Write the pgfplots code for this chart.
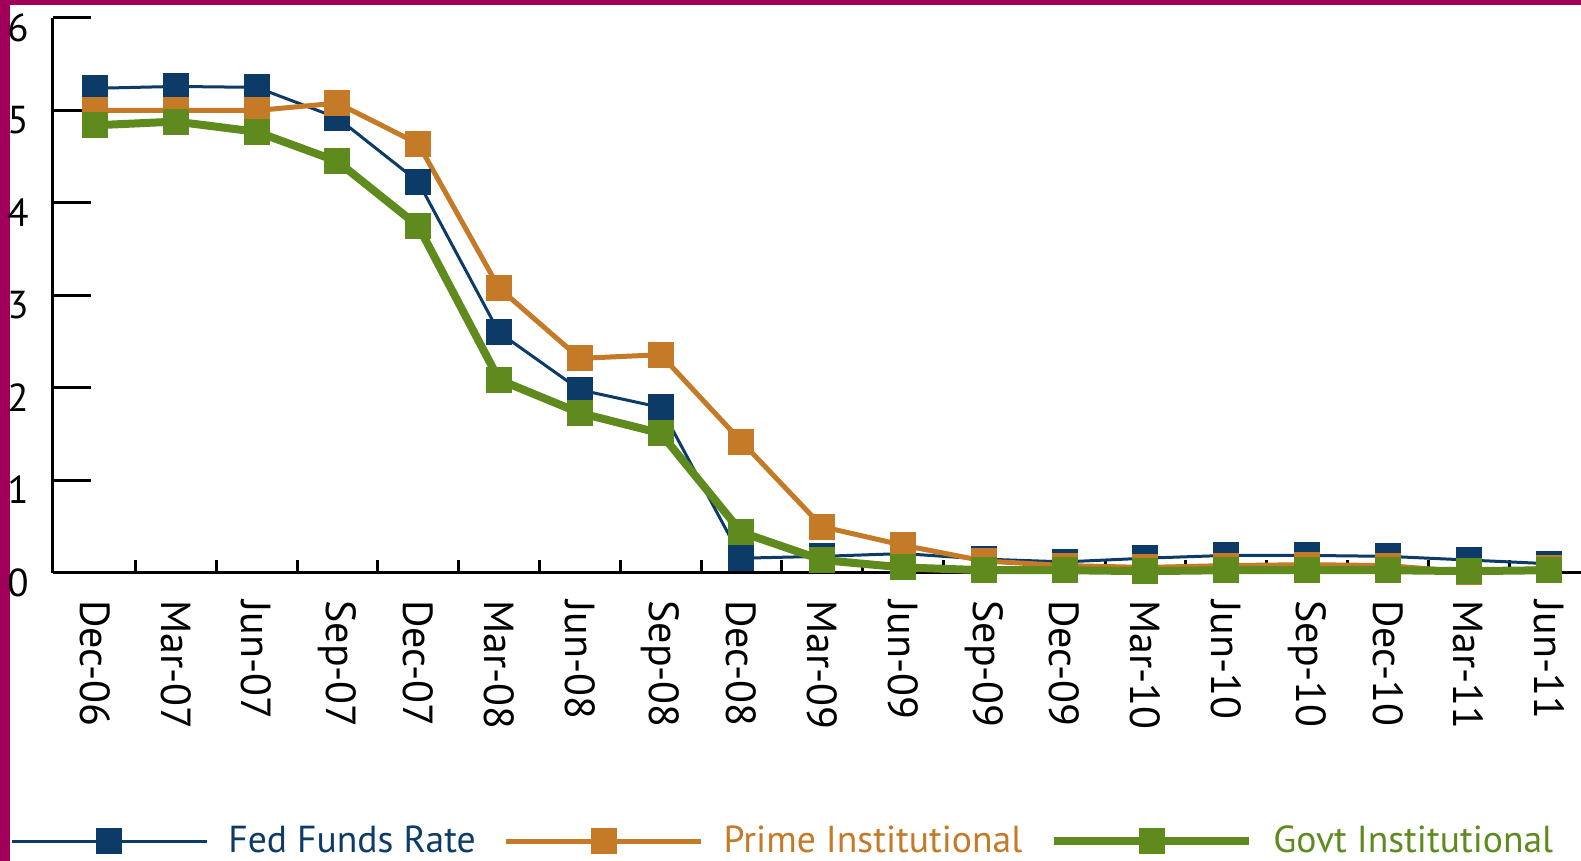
\documentclass[border=0pt]{standalone}
\usepackage{pgfplots}
\pgfplotsset{compat=1.18}
\usepackage{fontspec}
\setmainfont{PT Sans}
\definecolor{fedblue}{HTML}{0B3B66}
\definecolor{primeor}{HTML}{C47A26}
\definecolor{govgreen}{HTML}{5E8A1E}
\definecolor{bordercol}{HTML}{A0005A}

\pgfplotstableread{
x fed prime govt
0  5.24 5.00 4.84
1  5.26 5.00 4.88
2  5.25 5.00 4.77
3  4.92 5.08 4.45
4  4.23 4.64 3.75
5  2.60 3.08 2.09
6  1.98 2.32 1.73
7  1.79 2.36 1.51
8  0.16 1.42 0.44
9  0.18 0.50 0.14
10 0.21 0.30 0.06
11 0.15 0.13 0.03
12 0.12 0.08 0.03
13 0.16 0.06 0.02
14 0.19 0.08 0.03
15 0.19 0.09 0.03
16 0.18 0.08 0.03
17 0.14 0.01 0.02
18 0.10 0.05 0.03
}\datatable

\begin{document}
\begin{tikzpicture}[x=1pt,y=1pt]
\fill[bordercol] (0,0) rectangle (790.5,430.5);
\fill[white] (5,0) rectangle (790.5,428);
\useasboundingbox (0,0) rectangle (790.5,430.5);
\begin{axis}[
  at={(26.5pt,144pt)}, anchor=south west,
  scale only axis, width=764pt, height=277.5pt,
  xmin=-0.52, xmax=18.39, ymin=0, ymax=6,
  clip=false,
  axis lines=left,
  axis line style={line width=1.5pt, -, black},
  tick align=inside,
  tick style={black, line width=1.5pt},
  major tick length=19pt,
  minor tick length=6.5pt,
  ytick={0,1,2,3,4,5,6},
  xtick={0,...,18},
  xtick style={/pgfplots/major tick length=0pt},
  minor xtick={0.5,1.5,...,17.5},
  xticklabels={Dec-06,Mar-07,Jun-07,Sep-07,Dec-07,Mar-08,Jun-08,Sep-08,Dec-08,Mar-09,Jun-09,Sep-09,Dec-09,Mar-10,Jun-10,Sep-10,Dec-10,Mar-11,Jun-11},
  xticklabel style={rotate=-90, anchor=west, inner ysep=0pt, inner xsep=13.5pt, font=\fontsize{21}{24}\selectfont},
  yticklabel style={anchor=north east, inner sep=0pt, xshift=-12pt, yshift=2.5pt, font=\fontsize{19.5}{22}\selectfont},
  /pgf/number format/assume math mode=true,
  legend columns=3,
  legend style={draw=none, fill=none, at={(-0.0281,-0.483)}, anchor=west, inner sep=0pt,
    font=\fontsize{18.8}{23}\selectfont,
    nodes={inner sep=0pt},
    /tikz/every odd column/.append style={column sep=10pt},
    /tikz/every even column/.append style={column sep=14pt}},
  legend cell align=left,
  legend image code/.code={\draw[mark repeat=2, mark phase=2, #1] plot coordinates {(0pt,0pt) (48.75pt,0pt) (97.5pt,0pt)};},
  every axis plot/.append style={line join=round},
]
\addplot[fedblue, line width=1.5pt, mark=square*, mark size=6.25pt, mark options={fill=fedblue, line width=0pt, draw=fedblue}] table[x=x, y=fed] {\datatable};
\addlegendentry{\textcolor{fedblue}{Fed Funds Rate}}
\addplot[primeor, line width=2.5pt, mark=square*, mark size=6.25pt, mark options={fill=primeor, line width=0pt, draw=primeor}] table[x=x, y=prime] {\datatable};
\addlegendentry{\textcolor{primeor}{Prime Institutional}}
\addplot[govgreen, line width=4pt, mark=square*, mark size=6.25pt, mark options={fill=govgreen, line width=0pt, draw=govgreen}] table[x=x, y=govt] {\datatable};
\addlegendentry{\textcolor{govgreen}{Govt Institutional}}
\end{axis}
\end{tikzpicture}
\end{document}
